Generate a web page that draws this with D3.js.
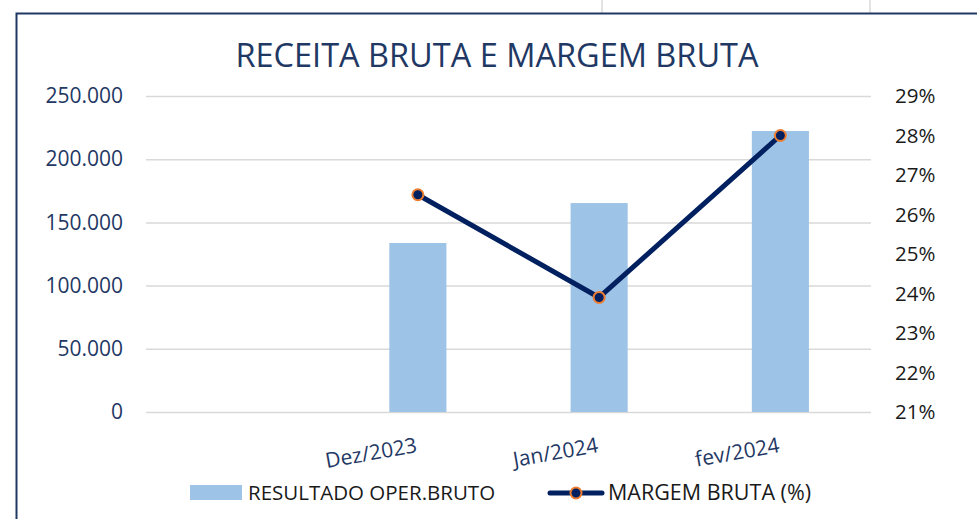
<!DOCTYPE html>
<html>
<head>
<meta charset="utf-8">
<script src="https://cdn.jsdelivr.net/npm/d3@7"></script>
<style>
  body { margin: 0; background: #fff; }
  svg { display: block; font-family: "Open Sans", sans-serif; }
</style>
</head>
<body>
<svg width="977" height="519"></svg>
<script>
// data
const categories = ['', 'Dez/2023', 'Jan/2024', 'fev/2024'];
const receita = [null, 133700, 165300, 222300];
const margem = [null, 26.5, 23.9, 28.0];
const leftTicks = [0, 50000, 100000, 150000, 200000, 250000];
const rightTicks = [21, 22, 23, 24, 25, 26, 27, 28, 29];

const navy = '#1f3864', lineNavy = '#002060', orange = '#ed7d31', barBlue = '#9dc3e6', grid = '#d9d9d9';

var svg = d3.select('svg'),
    margin = {top: 96, right: 106, bottom: 107, left: 146},
    width = svg.attr('width') - margin.left - margin.right,
    height = svg.attr('height') - margin.top - margin.bottom,
    g = svg.append('g').attr('transform', `translate(${margin.left}, ${margin.top})`);

const br = d3.formatLocale({decimal: ',', thousands: '.', grouping: [3], currency: ['', '']});
const fmtLeft = br.format(',d');

// spreadsheet cell lines above the frame
svg.selectAll('.cell').data([602, 870]).join('line')
  .attr('x1', d => d).attr('x2', d => d).attr('y1', 0).attr('y2', 13)
  .attr('stroke', grid).attr('stroke-width', 1.5);

svg.append('rect')
  .attr('x', 16.5).attr('y', 13.5).attr('width', 980).attr('height', 530)
  .attr('fill', 'none').attr('stroke', navy).attr('stroke-width', 2);

svg.append('text')
  .attr('x', 497).attr('y', 67).attr('text-anchor', 'middle')
  .attr('fill', navy).attr('font-size', 32.5)
  .text('RECEITA BRUTA E MARGEM BRUTA');

var x = d3.scaleBand().domain(categories).range([0, width]).padding(0);
var y = d3.scaleLinear().domain([0, 250000]).range([height, 0]);
var y2 = d3.scaleLinear().domain([21, 29]).range([height, 0]);

// gridlines
g.append('g')
  .call(d3.axisLeft(y).tickValues(leftTicks).tickSize(-width).tickFormat(''))
  .call(s => s.select('.domain').remove())
  .call(s => s.selectAll('line').attr('stroke', grid).attr('stroke-width', 1.5));

g.append('g')
  .call(d3.axisLeft(y).tickValues(leftTicks).tickSize(0).tickPadding(23).tickFormat(fmtLeft))
  .call(s => s.select('.domain').remove())
  .call(s => s.selectAll('text').attr('fill', navy).attr('font-size', 21).attr('font-family', '"Open Sans", sans-serif'));

g.append('g')
  .attr('transform', `translate(${width},0)`)
  .call(d3.axisRight(y2).tickValues(rightTicks).tickSize(0).tickPadding(24).tickFormat(d => d + '%'))
  .call(s => s.select('.domain').remove())
  .call(s => s.selectAll('text').attr('fill', '#1a1a1a').attr('font-size', 20.5).attr('font-family', '"Open Sans", sans-serif'));

// bars
const barW = x.bandwidth() * 0.315;
const barData = categories.map((c, i) => ({c, v: receita[i]})).filter(d => d.v != null);
g.selectAll('.bar').data(barData).join('rect')
  .attr('class', 'bar')
  .attr('x', d => x(d.c) + x.bandwidth() / 2 - barW / 2)
  .attr('width', barW)
  .attr('y', d => y(d.v))
  .attr('height', d => y(0) - y(d.v))
  .attr('fill', barBlue);

// x labels
g.selectAll('.xlab').data(categories.filter(c => c)).join('text')
  .attr('class', 'xlab')
  .attr('transform', d => `translate(${x(d) + x.bandwidth() / 2},${height + 40}) rotate(-10)`)
  .attr('text-anchor', 'end')
  .attr('fill', navy).attr('font-size', 21)
  .text(d => d);

// line
const lineData = categories.map((c, i) => ({c, v: margem[i]})).filter(d => d.v != null);
var line = d3.line()
  .x(d => x(d.c) + x.bandwidth() / 2)
  .y(d => y2(d.v));

g.append('path').datum(lineData)
  .attr('fill', 'none').attr('stroke', lineNavy).attr('stroke-width', 5)
  .attr('stroke-linejoin', 'round').attr('d', line);

g.selectAll('.pt').data(lineData).join('circle')
  .attr('class', 'pt')
  .attr('cx', d => x(d.c) + x.bandwidth() / 2)
  .attr('cy', d => y2(d.v))
  .attr('r', 5.5)
  .attr('fill', lineNavy).attr('stroke', orange).attr('stroke-width', 2);

// legend
const lg = svg.append('g');
lg.append('rect').attr('x', 190).attr('y', 485).attr('width', 52).attr('height', 15).attr('fill', barBlue);
lg.append('text').attr('x', 248).attr('y', 500).attr('font-size', 20.5).attr('fill', '#1a1a1a').text('RESULTADO OPER.BRUTO');
lg.append('line').attr('x1', 550).attr('x2', 602).attr('y1', 493).attr('y2', 493)
  .attr('stroke', lineNavy).attr('stroke-width', 5).attr('stroke-linecap', 'round');
lg.append('circle').attr('cx', 576).attr('cy', 493).attr('r', 5.5)
  .attr('fill', lineNavy).attr('stroke', orange).attr('stroke-width', 2);
lg.append('text').attr('x', 608).attr('y', 500).attr('font-size', 21.5).attr('fill', '#1a1a1a').text('MARGEM BRUTA (%)');
</script>
</body>
</html>
